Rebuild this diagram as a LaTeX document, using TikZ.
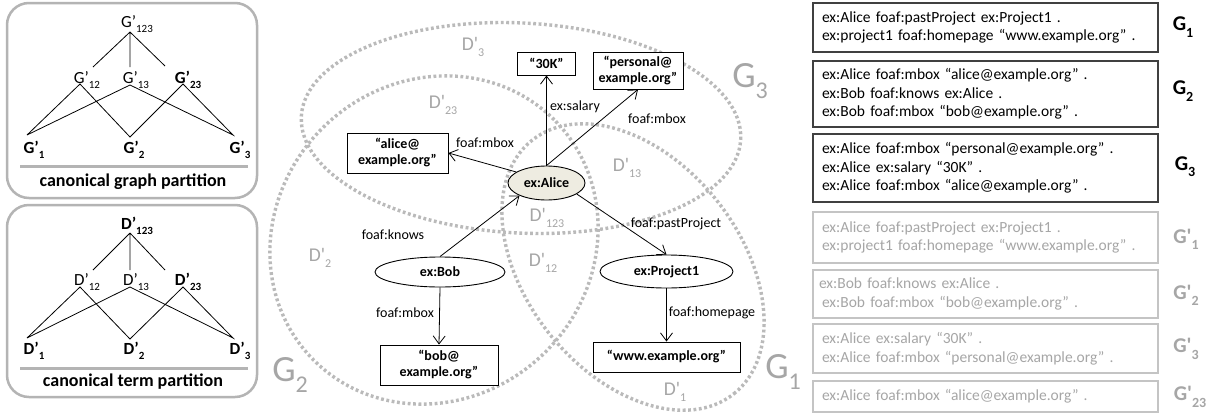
\documentclass[tikz,border=0pt]{standalone}
\usepackage{fontspec}
\setmainfont{Carlito}
\usetikzlibrary{arrows.meta,shapes.geometric}
\definecolor{dotgray}{HTML}{BABABA}
\definecolor{boxgray}{HTML}{C4C4C4}
\definecolor{lblgray}{HTML}{A6A6A6}
\definecolor{panelgray}{HTML}{B4B4B4}
\definecolor{alicefill}{HTML}{EEECE1}
\newcommand\fs[2]{\fontsize{#1}{#2}\selectfont}
\newcommand\lsub[2]{\raisebox{-0.3em}{\fontsize{#1}{#1}\selectfont #2}}
\begin{document}
\begin{tikzpicture}[x=1pt,y=-1pt,
  dotell/.style={draw=dotgray, line width=3.4pt, dash pattern=on 2.8pt off 2.6pt},
  region/.style={text=lblgray, font=\fs{19.5}{19.5}, inner sep=0pt},
  biglbl/.style={text=lblgray, font=\fs{37}{37}, inner sep=0pt},
  litbox/.style={draw, fill=white, line width=0.9pt, font=\bfseries\fs{14}{16}, align=center, inner sep=0pt},
  res/.style={ellipse, draw, fill=white, line width=0.9pt, font=\bfseries\fs{14}{16}, inner sep=0pt},
  arr/.style={-{Straight Barb[length=8pt,width=12pt]}, line width=0.8pt},
  elbl/.style={font=\fs{14}{16}, inner sep=0pt},
  panel/.style={draw=panelgray, line width=2.5pt, rounded corners=22pt},
  sepline/.style={draw=panelgray, line width=3pt},
  ptitle/.style={font=\bfseries\fs{18}{18}, inner sep=0pt},
  latt/.style={line width=0.8pt},
  lat/.style={font=\fs{17}{17}, inner sep=0pt},
  latb/.style={font=\bfseries\fs{17}{17}, inner sep=0pt},
  triple/.style={draw=black!75, fill=white, line width=1.2pt, minimum width=345pt, text width=327pt, align=left, font=\fs{15.5}{18.5}, inner xsep=9pt, inner ysep=0pt},
  tripleg/.style={triple, draw=boxgray, text=lblgray},
  glbl/.style={font=\bfseries\fs{21}{21}, inner sep=0pt},
  glblg/.style={glbl, text=lblgray}
]
\fill[white] (0,0) rectangle (1218,418);
\useasboundingbox (0,0) rectangle (1218,418);

% ---------- left panel 1 ----------
\draw[panel] (7,3) rectangle (257,198);
\draw[sepline] (20,166) -- (248,166);
\node[ptitle] (gtitle) at (133,182) {canonical graph partition};
\node[lat] (g123) at (137,24) {G’\lsub{11}{123}};
\node[lat] (g12) at (87,80) {G’\lsub{11}{12}};
\node[lat] (g13) at (136,80) {G’\lsub{11}{13}};
\node[latb] (g23) at (188,80) {G’\lsub{11}{23}};
\node[latb] (g1) at (34,150) {G’\lsub{11}{1}};
\node[latb] (g2) at (134,150) {G’\lsub{11}{2}};
\node[latb] (g3) at (240,150) {G’\lsub{11}{3}};
\coordinate (ga0) at (130,32);
\coordinate (ga12) at (93,67);
\coordinate (ga13) at (130,67);
\coordinate (ga23) at (165,66);
\coordinate (gb12) at (80,84);
\coordinate (gb13) at (130,85);
\coordinate (gb23) at (183,84);
\coordinate (gc1) at (27,135);
\coordinate (gc2) at (130,137);
\coordinate (gc3) at (233,135);
\draw[latt] (ga0) -- (ga12) (ga0) -- (ga13) (ga0) -- (ga23);
\draw[latt] (gc1) -- (gb12) -- (gc2) -- (gb23) -- (gc3) -- (gb13) -- (gc1);

% ---------- left panel 2 ----------
\begin{scope}[shift={(0,202)}]
\draw[panel] (7,3) rectangle (257,195);
\draw[sepline] (20,166) -- (248,166);
\node[ptitle] (dtitle) at (133,180) {canonical term partition};
\node[latb] (d123) at (137,24) {D’\lsub{11}{123}};
\node[lat] (d12) at (87,80) {D’\lsub{11}{12}};
\node[lat] (d13) at (136,80) {D’\lsub{11}{13}};
\node[latb] (d23) at (188,80) {D’\lsub{11}{23}};
\node[latb] (d1) at (34,149) {D’\lsub{11}{1}};
\node[latb] (d2) at (134,149) {D’\lsub{11}{2}};
\node[latb] (d3) at (240,149) {D’\lsub{11}{3}};
\coordinate (da0) at (130,31);
\coordinate (da12) at (93,68);
\coordinate (da13) at (130,68);
\coordinate (da23) at (165,68);
\coordinate (db12) at (80,85);
\coordinate (db13) at (130,85);
\coordinate (db23) at (183,85);
\coordinate (dc1) at (27,136);
\coordinate (dc2) at (130,137);
\coordinate (dc3) at (233,136);
\draw[latt] (da0) -- (da12) (da0) -- (da13) (da0) -- (da23);
\draw[latt] (dc1) -- (db12) -- (dc2) -- (db23) -- (dc3) -- (db13) -- (dc1);
\end{scope}

% ---------- dotted graph ellipses ----------
\draw[dotell, rotate around={-3:(521,128)}] (521,128) ellipse [x radius=220pt, y radius=105pt];
\draw[dotell, rotate around={45:(434,240)}] (434,240) ellipse [x radius=170pt, y radius=158pt];
\draw[dotell, rotate around={-51.5:(633,267)}] (633,267) ellipse [x radius=162pt, y radius=107pt];

% region labels
\node[region] (rd3) at (473,47) {D\textquotesingle\lsub{12}{3}};
\node[region] (rd23) at (443,105) {D\textquotesingle\lsub{12}{23}};
\node[region] (rd13) at (627,168) {D\textquotesingle\lsub{12}{13}};
\node[region] (rd123) at (547,218) {D\textquotesingle\lsub{12}{123}};
\node[region] (rd12) at (543,263) {D\textquotesingle\lsub{12}{12}};
\node[region] (rd2) at (320,258) {D\textquotesingle\lsub{12}{2}};
\node[region] (rd1) at (675,392) {D\textquotesingle\lsub{12}{1}};
\node[biglbl] (bg3) at (750,81) {G\lsub{24}{3}};
\node[biglbl] (bg2) at (290,375) {G\lsub{24}{2}};
\node[biglbl] (bg1) at (783,372) {G\lsub{24}{1}};

% ---------- RDF graph ----------
\node[litbox, minimum width=58pt, minimum height=23pt] (k30) at (546.5,63.5) {“30K”};
\node[litbox, minimum width=90pt, minimum height=37pt] (pers) at (638,70.5) {“personal@\\example.org”};
\node[litbox, minimum width=101pt, minimum height=40pt] (amail) at (397.5,153) {“alice@\\example.org”};
\node[res, fill=alicefill, minimum width=77pt, minimum height=34pt] (alice) at (546.5,183) {ex:Alice};
\node[res, minimum width=130pt, minimum height=30pt] (bob) at (440,272) {ex:Bob};
\node[res, minimum width=133pt, minimum height=33pt] (proj) at (666.5,271.5) {ex:Project1};
\node[litbox, minimum width=118pt, minimum height=40pt] (bmail) at (439,365) {“bob@\\example.org”};
\node[litbox, minimum width=147pt, minimum height=30pt] (www) at (666.5,357) {“www.example.org”};

\draw[arr] (alice.north) -- (k30.south);
\draw[arr] (alice.north) -- (pers.south);
\draw[arr] (alice.160) -- (amail.east);
\draw[arr] (bob.north) -- (alice.205);
\draw[arr] (alice.-20) -- (proj.north);
\draw[arr] (bob.south) -- (bmail.north);
\draw[arr] (proj.south) -- (www.north);

\node[elbl] (l1) at (575,107) {ex:salary};
\node[elbl] (l2) at (657,119) {foaf:mbox};
\node[elbl] (l3) at (485,143) {foaf:mbox};
\node[elbl] (l4) at (393,235) {foaf:knows};
\node[elbl] (l5) at (676,224) {foaf:pastProject};
\node[elbl] (l6) at (405,313) {foaf:mbox};
\node[elbl] (l7) at (712,313) {foaf:homepage};

% ---------- right panel ----------
\node[triple, minimum height=49pt] (t1) at (985.5,27.5) {ex:Alice foaf:pastProject ex:Project1 .\\ex:project1 foaf:homepage “www.example.org” .};
\node[triple, minimum height=66pt] (t2) at (985.5,94) {ex:Alice foaf:mbox “alice@example.org” .\\ex:Bob foaf:knows ex:Alice .\\ex:Bob foaf:mbox “bob@example.org” .};
\node[triple, minimum height=68pt] (t3) at (985.5,168) {ex:Alice foaf:mbox “personal@example.org” .\\ex:Alice ex:salary “30K” .\\ex:Alice foaf:mbox “alice@example.org” .};
\node[tripleg, minimum height=51pt] (u1) at (985.5,237.5) {ex:Alice foaf:pastProject ex:Project1 .\\ex:project1 foaf:homepage “www.example.org” .};
\node[tripleg, minimum height=48pt] (u2) at (985.5,294) {\hspace*{-3pt}ex:Bob foaf:knows ex:Alice .\\ex:Bob foaf:mbox “bob@example.org” .};
\node[tripleg, minimum height=49pt] (u3) at (985.5,348.5) {ex:Alice ex:salary “30K” .\\ex:Alice foaf:mbox “personal@example.org” .};
\node[tripleg, minimum height=31pt] (u23) at (985.5,396.5) {ex:Alice foaf:mbox “alice@example.org” .};

\node[glbl] (n1) at (1183,27) {G\lsub{14}{1}};
\node[glbl] (n2) at (1183,91) {G\lsub{14}{2}};
\node[glbl] (n3) at (1185,167) {G\lsub{14}{3}};
\node[glblg] (m1) at (1186,239) {G\textquotesingle\lsub{14}{1}};
\node[glblg] (m2) at (1186,295) {G\textquotesingle\lsub{14}{2}};
\node[glblg] (m3) at (1186,349) {G\textquotesingle\lsub{14}{3}};
\node[glblg] (m23) at (1190,397) {G\textquotesingle\lsub{14}{23}};
\end{tikzpicture}
\end{document}
